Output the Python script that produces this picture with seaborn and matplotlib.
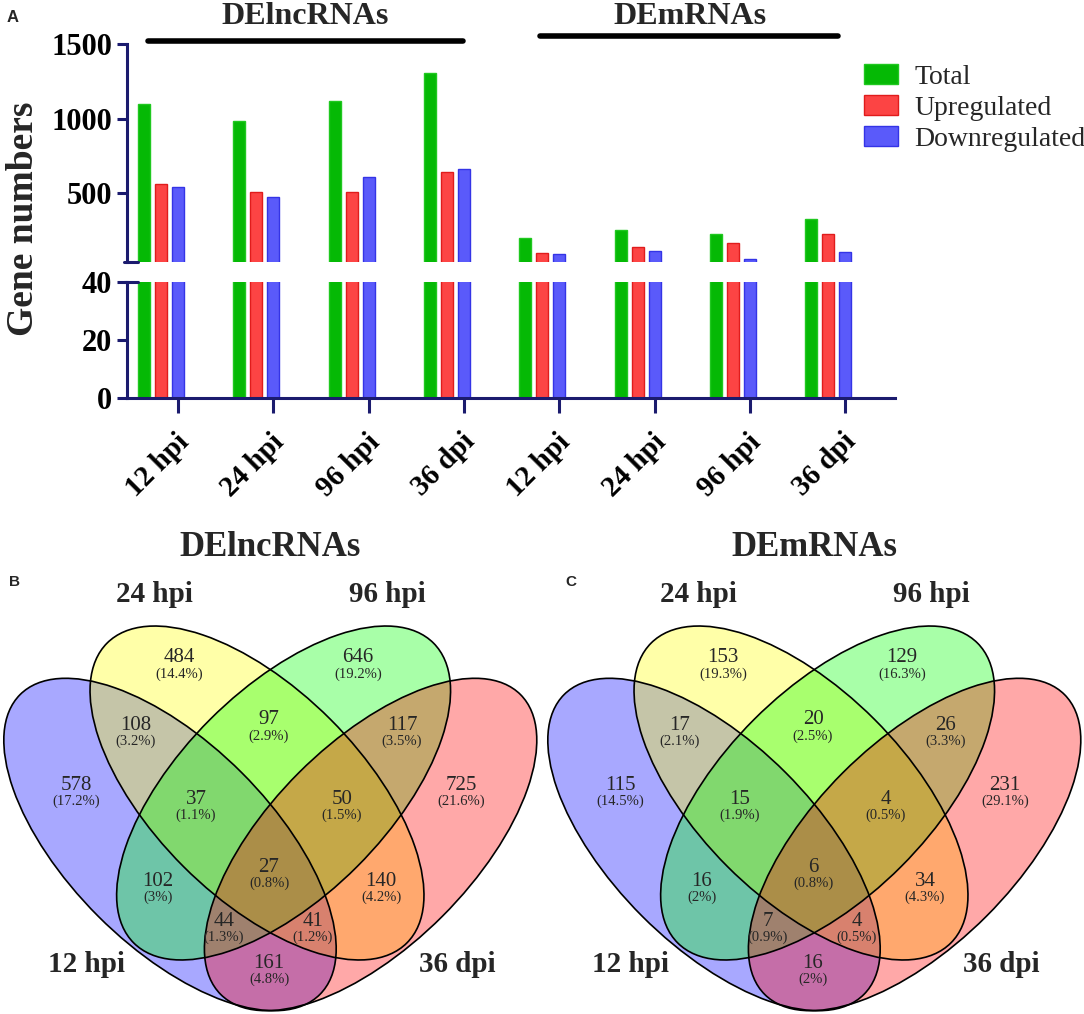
import numpy as np
import pandas as pd
import matplotlib
matplotlib.use("Agg")
import matplotlib.pyplot as plt
from matplotlib.patches import Ellipse, Patch
from matplotlib.transforms import blended_transform_factory, ScaledTranslation
import seaborn as sns

# bar chart data (panel A)
timepoints = ["12 hpi", "24 hpi", "96 hpi", "36 dpi"]
series_names = ["Total", "Upregulated", "Downregulated"]
lnc_total = [1098, 984, 1120, 1305]
lnc_up = [559, 510, 511, 643]
lnc_down = [539, 474, 609, 662]
mrna_total = [196, 253, 223, 328]
mrna_up = [101, 138, 164, 223]
mrna_down = [95, 115, 59, 105]

# venn data (panels B, C); A=12 hpi, B=24 hpi, C=96 hpi, D=36 dpi
venn_regions = ["A", "B", "C", "D", "AB", "BC", "CD", "ABC", "BCD",
                "ABCD", "AC", "BD", "ACD", "ABD", "AD"]
lnc_venn = [578, 484, 646, 725, 108, 97, 117, 37, 50, 27, 102, 140, 44, 41, 161]
mrna_venn = [115, 153, 129, 231, 17, 20, 26, 15, 4, 6, 16, 34, 7, 4, 16]

sns.set_style("ticks")
plt.rcParams["font.family"] = ["Liberation Serif", "DejaVu Serif"]

W, H = 1084, 1014
navy = "#1B1B6E"
bar_colors = ["#05B905", "#FC4444", "#5A5AFA"]
edge_colors = ["#20C820", "#E01C1C", "#3434E6"]

rows = []
for grp, vals in [("lnc", [lnc_total, lnc_up, lnc_down]),
                  ("mrna", [mrna_total, mrna_up, mrna_down])]:
    for k, tp in enumerate(timepoints):
        for name, v in zip(series_names, vals):
            rows.append({"slot": f"{grp} {tp}", "series": name, "value": v[k]})
df = pd.DataFrame(rows)
slot_order = [f"lnc {tp}" for tp in timepoints] + [f"mrna {tp}" for tp in timepoints]

fig = plt.figure(figsize=(W / 100, H / 100), dpi=100)
ax_top = fig.add_axes([127 / W, 1 - 261.7 / H, 768 / W, 217.4 / H])
ax_bot = fig.add_axes([127 / W, 1 - 397.7 / H, 768 / W, 115.4 / H])

for ax in (ax_top, ax_bot):
    sns.barplot(data=df, x="slot", y="value", hue="series", order=slot_order,
                hue_order=series_names, palette=bar_colors, width=0.537, gap=0.3,
                saturation=1, errorbar=None, legend=False, ax=ax, linewidth=1)
    for p in ax.patches:
        fc = matplotlib.colors.to_hex(p.get_facecolor())
        for c, e in zip(bar_colors, edge_colors):
            if fc.lower() == c.lower():
                p.set_edgecolor(e)
    ax.set_xlim(-0.357, 7.70)
    ax.set_xlabel("")
    ax.set_ylabel("")
    for s in ["top", "right"]:
        ax.spines[s].set_visible(False)
    for s in ["left", "bottom"]:
        ax.spines[s].set_color(navy)
        ax.spines[s].set_linewidth(2.2)
    ax.tick_params(axis="y", colors=navy, width=2.2, length=7, labelcolor="black")

ax_top.set_ylim(40, 1500)
ax_top.set_yticks([500, 1000, 1500])
ax_top.set_yticklabels(["500", "1000", "1500"], fontsize=22, fontweight="bold")
ax_top.spines["bottom"].set_visible(False)
ax_top.set_xticks([])
ax_top.plot([-0.004, 0.014], [0, 0], transform=ax_top.transAxes, color=navy,
            lw=2.2, clip_on=False)

ax_bot.set_ylim(0, 40)
ax_bot.set_yticks([0, 20, 40])
ax_bot.set_yticklabels(["0", "20", "40"], fontsize=22, fontweight="bold")
ax_bot.set_xticks(np.arange(len(slot_order)) + 0.179)
ax_bot.set_xticklabels(timepoints * 2, fontsize=21, fontweight="bold",
                       rotation=45, ha="right", va="top", rotation_mode="anchor")
ax_bot.tick_params(axis="x", colors=navy, width=2.2, length=11, pad=11,
                   labelcolor="black")
shift = ScaledTranslation(-0.03, 0, fig.dpi_scale_trans)
for t in ax_bot.get_xticklabels():
    t.set_transform(t.get_transform() + shift)
ax_bot.plot([-0.004, 0.014], [1, 1], transform=ax_bot.transAxes, color=navy,
            lw=2.2, clip_on=False)

fig.text(24 / W, 1 - 219 / H, "Gene numbers", rotation=90, ha="center", va="center",
         fontsize=27, fontweight="bold")
fig.text(13 / W, 1 - 18 / H, "A", family="Liberation Sans", fontweight="bold",
         fontsize=12, ha="center", va="center")

# group headers above the bars
trans = blended_transform_factory(ax_top.transData, fig.transFigure)
for x0, x1, xc, y_line, title in [(-0.136, 3.17, 1.51, 1 - 41 / H, "DElncRNAs"),
                                  (3.98, 7.10, 5.55, 1 - 36 / H, "DEmRNAs")]:
    ax_top.plot([x0, x1], [y_line, y_line], transform=trans, color="black", lw=4,
                solid_capstyle="round", clip_on=False)
    ax_top.text(xc, 1 - 16 / H, title, transform=trans, ha="center", va="center",
                fontsize=23, fontweight="bold")

handles = [Patch(facecolor=c, edgecolor=e, linewidth=1) for c, e in zip(bar_colors, edge_colors)]
fig.legend(handles, series_names, loc="upper left", bbox_to_anchor=(864 / W, 1 - 64 / H),
           frameon=False, fontsize=20, handlelength=1.22, handleheight=0.72,
           handletextpad=0.6, labelspacing=0.2, borderpad=0, borderaxespad=0)

# venn panels
ellipses = [  # cx, cy, a, b, angle (local pixel coords, y down)
    (170.0, 344.5, 212, 101.5, 45, "blue"),
    (257.0, 293.0, 212, 104, 45, "yellow"),
    (283.6, 293.0, 212, 104, -45, "lime"),
    (370.6, 344.5, 212, 101.5, -45, "red"),
]
label_pos = {
    "A": (76, 285), "B": (179, 158), "C": (358, 158), "D": (461, 285),
    "AB": (136, 225), "BC": (269, 220), "CD": (402, 225),
    "ABC": (196, 299), "BCD": (342, 299), "ABCD": (269, 367),
    "AC": (158, 381), "BD": (381, 381), "ACD": (224, 421), "ABD": (313, 421),
    "AD": (269, 463),
}
set_label_pos = [(86, 465), (154, 95), (387, 95), (457, 465)]


def pct_text(n, total):
    s = f"{round(100 * n / total, 1):.1f}".rstrip("0").rstrip(".")
    return f"({s}%)"


for x0, counts, title, letter, letter_x in [(0, lnc_venn, "DElncRNAs", "B", 14),
                                            (544, mrna_venn, "DEmRNAs", "C", 27)]:
    ax = fig.add_axes([x0 / W, 0, 544 / W, 514 / H])
    ax.set_xlim(0, 544)
    ax.set_ylim(514, 0)
    ax.axis("off")
    for cx, cy, a, b, ang, col in ellipses:
        ax.add_patch(Ellipse((cx, cy), 2 * a, 2 * b, angle=ang, facecolor=col,
                             alpha=0.34, edgecolor="none"))
    for cx, cy, a, b, ang, col in ellipses:
        ax.add_patch(Ellipse((cx, cy), 2 * a, 2 * b, angle=ang, facecolor="none",
                             edgecolor="black", lw=1.2))
    total = sum(counts)
    for reg, n in zip(venn_regions, counts):
        x, y = label_pos[reg]
        ax.text(x, y, str(n), ha="center", va="center", fontsize=15)
        ax.text(x, y + 16, pct_text(n, total), ha="center", va="center", fontsize=10.5)
    for (x, y), name in zip(set_label_pos, timepoints):
        ax.text(x, y, name, ha="center", va="center", fontsize=21, fontweight="bold")
    ax.text(270, 47, title, ha="center", va="center", fontsize=25, fontweight="bold")
    ax.text(letter_x, 82, letter, ha="center", va="center", family="Liberation Sans",
            fontweight="bold", fontsize=11)

fig.savefig("out.png", dpi=100)
